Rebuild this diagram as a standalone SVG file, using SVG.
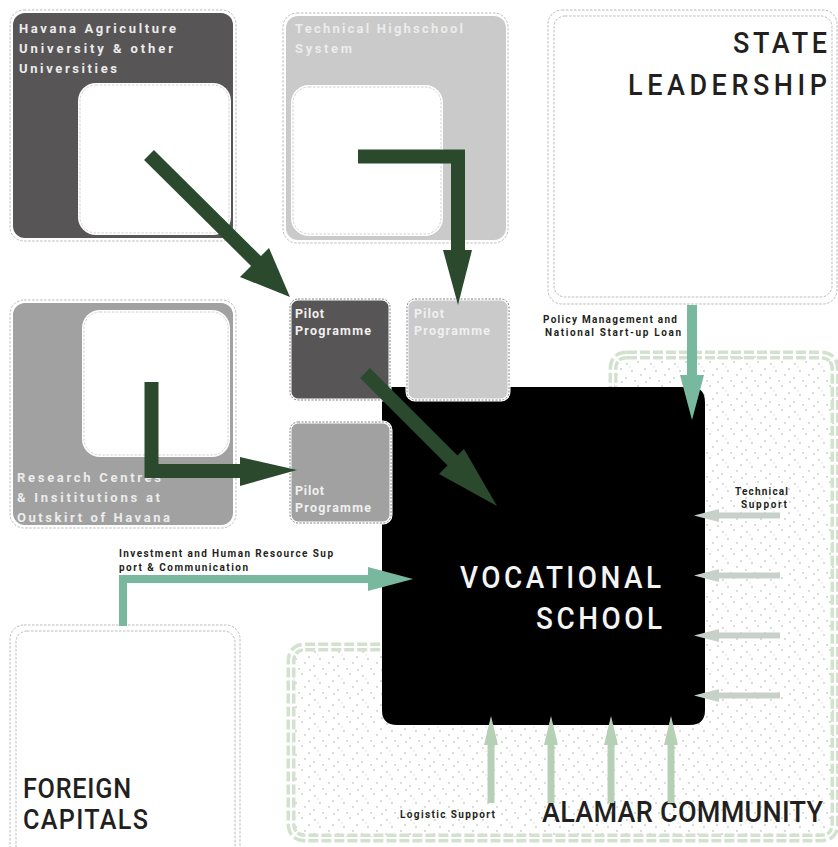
<svg xmlns="http://www.w3.org/2000/svg" width="838" height="847" viewBox="0 0 838 847">
<defs>
<pattern id="dots" width="24" height="24" patternUnits="userSpaceOnUse">
<rect width="24" height="24" fill="#fff"/>
<g fill="#999">
<circle cx="3" cy="4" r="0.65"/><circle cx="14" cy="2" r="0.65"/><circle cx="21" cy="9" r="0.65"/>
<circle cx="8" cy="11" r="0.65"/><circle cx="17" cy="15" r="0.65"/><circle cx="2" cy="18" r="0.65"/>
<circle cx="11" cy="21" r="0.65"/><circle cx="22" cy="22" r="0.65"/><circle cx="6" cy="7" r="0.45"/>
</g>
</pattern>
<style>
.dash{fill:none;stroke:#aaa;stroke-width:0.8;stroke-dasharray:2.5 1.5}
.wdash{fill:none;stroke:#c4c4c4;stroke-width:0.8;stroke-dasharray:2.5 1.5}
.pb{stroke:#fff;stroke-width:3}
.pd{fill:none;stroke:#666;stroke-width:0.8;stroke-dasharray:2 1.5}
.lt{font-family:Roboto,"Liberation Sans",sans-serif;font-weight:700;font-size:13px;fill:#ececec}
.pt{font-family:Roboto,"Liberation Sans",sans-serif;font-weight:700;font-size:12.5px;fill:#f0f0f0}
.sm{font-family:Roboto,"Liberation Sans",sans-serif;font-weight:700;font-size:10px;fill:#231f20}
.big{font-family:Roboto,"Liberation Sans",sans-serif;font-weight:500;font-size:30px;fill:#231f20}
.big31{font-family:Roboto,"Liberation Sans",sans-serif;font-weight:500;font-size:31px;fill:#f4f4f4}
.big28{font-family:Roboto,"Liberation Sans",sans-serif;font-weight:500;font-size:28px;fill:#231f20}
.dg{fill:#2b4a2d}
.dgs{fill:none;stroke:#2b4a2d;stroke-width:14}
</style>
</defs>
<rect width="838" height="847" fill="#fff"/>

<g id="alamar-community">
<path d="M627,355 H820 Q835,355 835,370 V823 Q835,838 820,838 H306 Q291,838 291,823 V662 Q291,647 306,647 H613 V370 Q613,355 627,355 Z" fill="url(#dots)" stroke="#d3e2cf" stroke-width="9" stroke-dasharray="10 3"/>
<path d="M627,355 H820 Q835,355 835,370 V823 Q835,838 820,838 H306 Q291,838 291,823 V662 Q291,647 306,647 H613 V370 Q613,355 627,355 Z" fill="none" stroke="#fff" stroke-width="2"/>
<text class="big" transform="translate(542,822) scale(0.9,1)" x="0" y="0" textLength="312.2" lengthAdjust="spacing">ALAMAR COMMUNITY</text>
</g>

<g id="havana-university">
<rect class="dash" x="10" y="10" width="226" height="231" rx="14"/>
<rect x="13" y="13" width="220" height="225" rx="12" fill="#575556"/>
<rect x="78" y="83" width="153" height="152" rx="18" fill="#fff"/>
<rect class="wdash" x="80" y="85" width="149" height="148" rx="16"/>
<text class="lt" x="19" y="33" textLength="157" lengthAdjust="spacing">Havana Agriculture</text>
<text class="lt" x="19" y="53" textLength="154" lengthAdjust="spacing">University &amp; other</text>
<text class="lt" x="19" y="73" textLength="98" lengthAdjust="spacing">Universities</text>
</g>

<g id="technical-highschool">
<rect class="dash" x="283" y="13" width="225" height="230" rx="14"/>
<rect x="286" y="16" width="220" height="224" rx="12" fill="#c9cac9"/>
<rect x="291" y="85" width="152" height="151" rx="18" fill="#fff"/>
<rect class="wdash" x="293" y="87" width="148" height="147" rx="16"/>
<text class="lt" x="295" y="33" textLength="168" lengthAdjust="spacing">Technical Highschool</text>
<text class="lt" x="295" y="53" textLength="57" lengthAdjust="spacing">System</text>
</g>

<g id="state-leadership">
<rect class="dash" x="548" y="10" width="289" height="294" rx="14"/>
<rect class="dash" x="554" y="16" width="278" height="281" rx="11"/>
<text class="big" transform="translate(733,53) scale(0.9,1)" x="0" y="0" textLength="104.4" lengthAdjust="spacing">STATE</text>
<text class="big" transform="translate(628,95) scale(0.9,1)" x="0" y="0" textLength="221.1" lengthAdjust="spacing">LEADERSHIP</text>
</g>

<g id="research-centres">
<rect class="dash" x="10" y="300" width="226" height="228" rx="14"/>
<rect x="13" y="303" width="220" height="222" rx="12" fill="#a0a1a0"/>
<rect x="82" y="310" width="148" height="147" rx="18" fill="#fff"/>
<rect class="wdash" x="84" y="312" width="144" height="143" rx="16"/>
<text class="lt" x="17" y="482" textLength="144" lengthAdjust="spacing">Research Centres</text>
<text class="lt" x="17" y="502" textLength="143" lengthAdjust="spacing">&amp; Insititutions at</text>
<text class="lt" x="17" y="522" textLength="153" lengthAdjust="spacing">Outskirt of Havana</text>
</g>

<g id="foreign-capitals">
<rect class="dash" x="10" y="625" width="230" height="240" rx="14"/>
<rect class="dash" x="16" y="631" width="219" height="230" rx="11"/>
<text class="big28" transform="translate(23,798) scale(0.9,1)" x="0" y="0" textLength="120" lengthAdjust="spacing">FOREIGN</text>
<text class="big28" transform="translate(23,829) scale(0.9,1)" x="0" y="0" textLength="138.9" lengthAdjust="spacing">CAPITALS</text>
</g>

<g id="vocational-school">
<path d="M382,387 H690 Q705,387 705,402 V710 Q705,725 690,725 H397 Q382,725 382,710 Z" fill="#000"/>
<text class="big31" transform="translate(460,588) scale(0.9,1)" x="0" y="0" textLength="223.3" lengthAdjust="spacing">VOCATIONAL</text>
<text class="big31" transform="translate(536,629) scale(0.9,1)" x="0" y="0" textLength="140" lengthAdjust="spacing">SCHOOL</text>
</g>

<g id="pilot-1">
<rect class="pb" x="290" y="299" width="100" height="101" rx="8" fill="#575556"/>
<rect class="pd" x="290" y="299" width="100" height="101" rx="8"/>
<text class="pt" x="295" y="318" textLength="29" lengthAdjust="spacing">Pilot</text>
<text class="pt" x="295" y="335" textLength="76" lengthAdjust="spacing">Programme</text>
</g>
<g id="pilot-2">
<rect class="pb" x="407" y="299" width="102" height="101" rx="8" fill="#c9cac9"/>
<rect class="pd" x="407" y="299" width="102" height="101" rx="8"/>
<text class="pt" x="414" y="318" textLength="30" lengthAdjust="spacing">Pilot</text>
<text class="pt" x="414" y="335" textLength="76" lengthAdjust="spacing">Programme</text>
</g>
<g id="pilot-3">
<rect class="pb" x="290" y="422" width="101" height="101" rx="8" fill="#a0a1a0"/>
<rect class="pd" x="290" y="422" width="101" height="101" rx="8"/>
<text class="pt" x="295" y="495" textLength="29" lengthAdjust="spacing">Pilot</text>
<text class="pt" x="295" y="512" textLength="76" lengthAdjust="spacing">Programme</text>
</g>

<g id="connectors">
<line class="dgs" x1="149" y1="155" x2="258" y2="263"/>
<polygon class="dg" points="240,277 269,248 290,297"/>
<polyline class="dgs" stroke-width="13" points="358,156.5 458,156.5 458,252"/>
<polygon class="dg" points="443,250 472,250 458,305"/>
<polyline class="dgs" stroke-width="13" points="151.5,382 151.5,471 245,471"/>
<polygon class="dg" points="240,457 240,486 297,470"/>
<line class="dgs" x1="365" y1="373" x2="462" y2="470"/>
<polygon class="dg" points="439,474 464,449 497,506"/>
<line x1="692" y1="305" x2="692" y2="378" stroke="#77b89e" stroke-width="10"/>
<polygon points="680,375 704,375 692,420" fill="#77b89e"/>
<polyline points="123,626 123,579 370,579" fill="none" stroke="#77b89e" stroke-width="8"/>
<polygon points="368,567 368,591 413,579" fill="#77b89e"/>
<g fill="#c7d1ca" stroke="#c7d1ca">
<line x1="780" y1="515.5" x2="718" y2="515.5" stroke-width="6"/><polygon points="719,509 719,522 694,515.5" stroke="none"/>
<line x1="780" y1="575.5" x2="718" y2="575.5" stroke-width="6"/><polygon points="719,569 719,582 694,575.5" stroke="none"/>
<line x1="780" y1="635.5" x2="718" y2="635.5" stroke-width="6"/><polygon points="719,629 719,642 694,635.5" stroke="none"/>
<line x1="780" y1="695.5" x2="718" y2="695.5" stroke-width="6"/><polygon points="719,689 719,702 694,695.5" stroke="none"/>
</g>
<g fill="#b6d0b5" stroke="#b6d0b5">
<line x1="491" y1="803" x2="491" y2="742" stroke-width="7"/><polygon points="484,745 498,745 491,716" stroke="none"/>
<line x1="551" y1="803" x2="551" y2="742" stroke-width="7"/><polygon points="544,745 558,745 551,716" stroke="none"/>
<line x1="611" y1="803" x2="611" y2="742" stroke-width="7"/><polygon points="604,745 618,745 611,716" stroke="none"/>
<line x1="671" y1="803" x2="671" y2="742" stroke-width="7"/><polygon points="664,745 678,745 671,716" stroke="none"/>
</g>
<text class="sm" x="543" y="323" textLength="134" lengthAdjust="spacing">Policy Management and</text>
<text class="sm" x="545" y="336" textLength="136" lengthAdjust="spacing">National Start-up Loan</text>
<text class="sm" x="735" y="495" textLength="53" lengthAdjust="spacing">Technical</text>
<text class="sm" x="741" y="508" textLength="46" lengthAdjust="spacing">Support</text>
<text class="sm" x="119" y="557" textLength="214" lengthAdjust="spacing">Investment and Human Resource Sup</text>
<text class="sm" x="119" y="571" textLength="129" lengthAdjust="spacing">port &amp; Communication</text>
<text class="sm" x="400" y="818" textLength="95" lengthAdjust="spacing">Logistic Support</text>
</g>
</svg>
